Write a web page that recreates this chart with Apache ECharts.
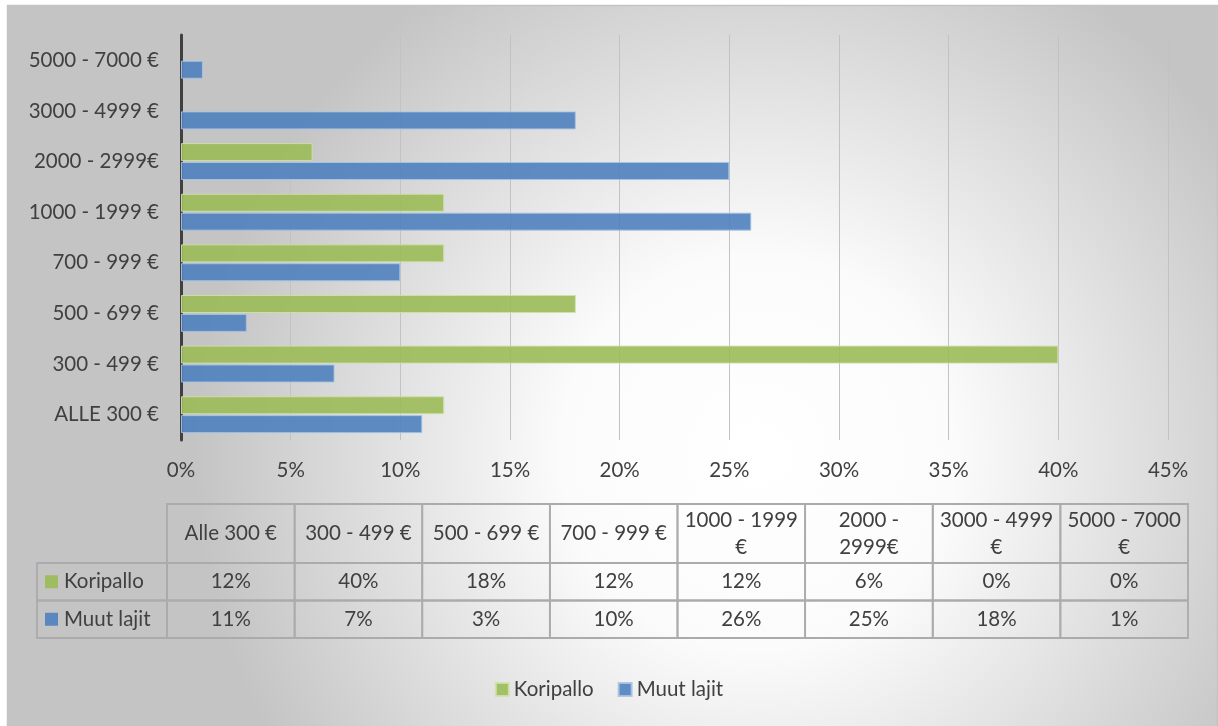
<!DOCTYPE html>
<html>
<head>
<meta charset="utf-8">
<script src="https://cdn.jsdelivr.net/npm/echarts@6/dist/echarts.min.js"></script>
<style>
  html, body { margin: 0; padding: 0; background: #ffffff; }
  #chart { width: 1218px; height: 726px; }
</style>
</head>
<body>
<div id="chart"></div>
<script>
// Price bands (bottom to top on the value axis)
const categories = ['ALLE 300 €', '300 - 499 €', '500 - 699 €', '700 - 999 €',
                    '1000 - 1999 €', '2000 - 2999€', '3000 - 4999 €', '5000 - 7000 €'];
// Column headings of the data table
const tableHeaders = ['Alle 300 €', '300 - 499 €', '500 - 699 €', '700 - 999 €',
                      '1000 - 1999\n€', '2000 -\n2999€', '3000 - 4999\n€', '5000 - 7000\n€'];
// Shares in percent
const koripallo = [12, 40, 18, 12, 12, 6, 0, 0];
const muutLajit = [11, 7, 3, 10, 26, 25, 18, 1];
const seriesNames = ['Koripallo', 'Muut lajit'];
// Value axis ticks (percent)
const xMin = 0, xMax = 45, xStep = 5;

const FONT = 'Lato, "Open Sans", sans-serif';
const FS = 20.5;
const TEXT = '#404040';
const GREEN = '#9BBB59';
const BLUE = '#4F81BD';

// Data table geometry
const tbl = { left: 37, x0: 167, x1: 1188, top: 504, headH: 59, rowH: 37.5 };
const colW = (tbl.x1 - tbl.x0) / tableHeaders.length;
const LINE = '#ababab';
const LW = 1.8;

const graphics = [];
// chart area background with border
graphics.push({
  type: 'rect', z: -10, silent: true,
  shape: { x: 7.5, y: 5.5, width: 1210, height: 722 },
  style: {
    fill: { type: 'radial', x: 0.62, y: 0.62, r: 0.78,
      colorStops: [{ offset: 0, color: '#ffffff' }, { offset: 0.35, color: '#fbfbfb' }, { offset: 1, color: '#c4c4c4' }] },
    stroke: '#c4c4c4', lineWidth: 1.5
  }
});
// header cells
tableHeaders.forEach((h, i) => {
  const x = tbl.x0 + i * colW;
  graphics.push({ type: 'rect', silent: true,
    shape: { x: x, y: tbl.top, width: colW, height: tbl.headH },
    style: { fill: 'none', stroke: LINE, lineWidth: LW } });
  graphics.push({ type: 'text', silent: true,
    style: { text: h, x: x + colW / 2, y: tbl.top + tbl.headH / 2, align: 'center', verticalAlign: 'middle',
      lineHeight: 27, fontSize: FS, fontFamily: FONT, fill: TEXT } });
});
// value rows
[koripallo, muutLajit].forEach((vals, r) => {
  const y = tbl.top + tbl.headH + r * tbl.rowH;
  graphics.push({ type: 'rect', silent: true,
    shape: { x: tbl.left, y: y, width: tbl.x0 - tbl.left, height: tbl.rowH },
    style: { fill: 'none', stroke: LINE, lineWidth: LW } });
  graphics.push({ type: 'rect', silent: true,
    shape: { x: tbl.left + 8, y: y + tbl.rowH / 2 - 6.5, width: 13, height: 13 },
    style: { fill: r === 0 ? GREEN : BLUE, opacity: 0.9 } });
  graphics.push({ type: 'text', silent: true,
    style: { text: seriesNames[r], x: tbl.left + 27, y: y + tbl.rowH / 2, align: 'left', verticalAlign: 'middle',
      fontSize: FS, fontFamily: FONT, fill: TEXT } });
  vals.forEach((v, i) => {
    const x = tbl.x0 + i * colW;
    graphics.push({ type: 'rect', silent: true,
      shape: { x: x, y: y, width: colW, height: tbl.rowH },
      style: { fill: 'none', stroke: LINE, lineWidth: LW } });
    graphics.push({ type: 'text', silent: true,
      style: { text: v + '%', x: x + colW / 2, y: y + tbl.rowH / 2, align: 'center', verticalAlign: 'middle',
        fontSize: FS, fontFamily: FONT, fill: TEXT } });
  });
});

function barData(vals) {
  return vals.map(v => v === 0 ? { value: v, itemStyle: { borderWidth: 0 } } : v);
}

const chart = echarts.init(document.getElementById('chart'), null, { renderer: 'canvas' });
chart.setOption({
  animation: false,
  backgroundColor: 'transparent',
  textStyle: { fontFamily: FONT },
  grid: { left: 181, right: 50, top: 35, bottom: 286, containLabel: false },
  legend: {
    data: seriesNames,
    left: 'center', bottom: 21,
    itemWidth: 13, itemHeight: 13, itemGap: 24,
    icon: 'rect',
    textStyle: { fontSize: FS, color: TEXT, fontFamily: FONT }
  },
  xAxis: {
    type: 'value', min: xMin, max: xMax, interval: xStep,
    axisLine: { show: false }, axisTick: { show: false },
    axisLabel: { formatter: '{value}%', fontSize: FS, color: TEXT, margin: 20, fontFamily: FONT },
    splitLine: { lineStyle: { color: '#c2c2c2', width: 1 } }
  },
  yAxis: {
    type: 'category', data: categories,
    axisLine: { lineStyle: { color: '#404040', width: 3 } },
    axisTick: { show: false },
    axisLabel: { fontSize: FS, color: TEXT, margin: 22, fontFamily: FONT }
  },
  series: [
    { name: 'Koripallo', type: 'bar', data: barData(koripallo), barWidth: 18, barGap: '5%',
      itemStyle: { color: GREEN, opacity: 0.9, borderColor: '#cfe0ad', borderWidth: 1 } },
    { name: 'Muut lajit', type: 'bar', data: barData(muutLajit), barWidth: 18, barGap: '5%',
      itemStyle: { color: BLUE, opacity: 0.9, borderColor: '#a9c3e4', borderWidth: 1 } }
  ],
  graphic: graphics
});
</script>
</body>
</html>
